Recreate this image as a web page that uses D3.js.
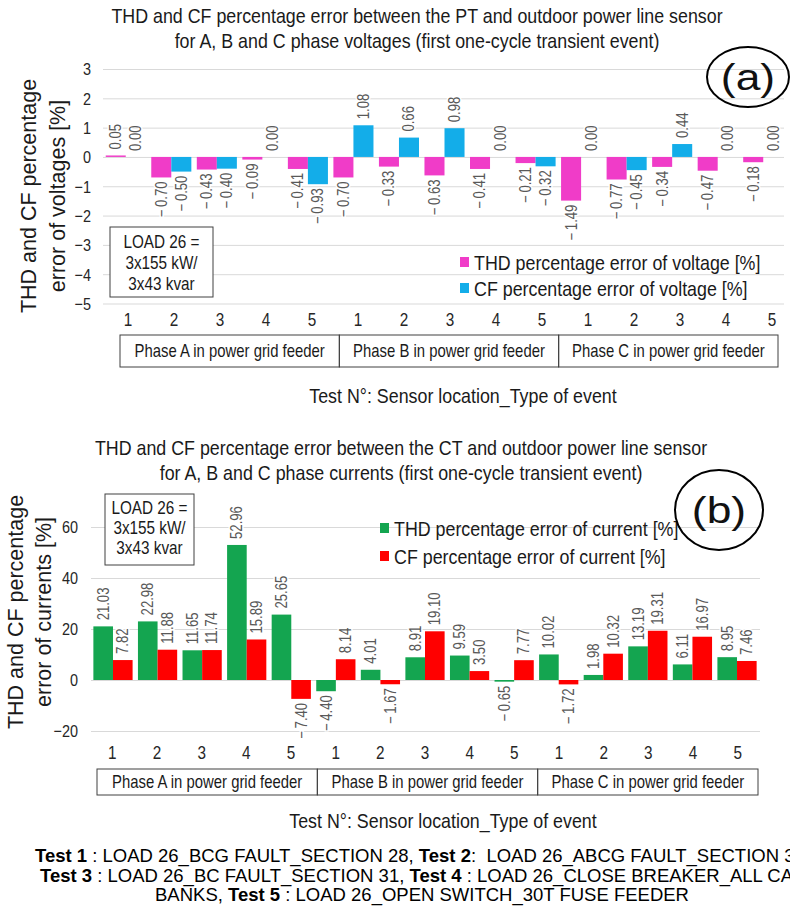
<!DOCTYPE html>
<html>
<head>
<meta charset="utf-8">
<script src="https://cdn.jsdelivr.net/npm/d3@7"></script>
<style>
  body { margin: 0; background: #fff; }
  svg { display: block; font-family: "Liberation Sans", Arial, sans-serif; }
</style>
</head>
<body>
<svg id="chart" width="790" height="913"></svg>
<script>
// ---- data -------------------------------------------------------------
const categories = ["A1", "A2", "A3", "A4", "A5", "B1", "B2", "B3", "B4", "B5", "C1", "C2", "C3", "C4", "C5"];
const testLabels = ["1", "2", "3", "4", "5", "1", "2", "3", "4", "5", "1", "2", "3", "4", "5"];
const phaseLabels = ["Phase A in power grid feeder", "Phase B in power grid feeder", "Phase C in power grid feeder"];

const thdVoltage = [0.05, -0.70, -0.43, -0.09, -0.41, -0.70, -0.33, -0.63, -0.41, -0.21, -1.49, -0.77, -0.34, -0.47, -0.18];
const cfVoltage  = [0.00, -0.50, -0.40, 0.00, -0.93, 1.08, 0.66, 0.98, 0.00, -0.32, 0.00, -0.45, 0.44, 0.00, 0.00];
const thdCurrent = [21.03, 22.98, 11.65, 52.96, 25.65, -4.40, 4.01, 8.91, 9.59, -0.65, 10.02, 1.98, 13.19, 6.11, 8.95];
const cfCurrent  = [7.82, 11.88, 11.74, 15.89, -7.40, 8.14, -1.67, 19.10, 3.50, 7.77, -1.72, 10.32, 19.31, 16.97, 7.46];

const voltageSeries = ["THD percentage error of voltage [%]", "CF percentage error of voltage [%]"];
const currentSeries = ["THD percentage error of current [%]", "CF percentage error of current [%]"];
const voltageTicks = [-5, -4, -3, -2, -1, 0, 1, 2, 3];
const currentTicks = [-20, 0, 20, 40, 60];

const loadNote = ["LOAD 26 =", "3x155 kW/", "3x43 kvar"];
const xAxisTitle = "Test N\u00b0: Sensor location_Type of event";

// ---- helpers ----------------------------------------------------------
const svg = d3.select("#chart");
const NARROW = 0.85;
const minus = "\u2212";

function label(parent, x, y, str, size, opts = {}) {
  const sx = opts.sx ?? NARROW;
  const rot = opts.rotate ? ` rotate(${opts.rotate})` : "";
  const g = parent.append("g").attr("transform", `translate(${x},${y})${rot} scale(${sx},1)`);
  return g.append("text")
    .attr("font-size", size)
    .attr("text-anchor", opts.anchor || "middle")
    .attr("dominant-baseline", "central")
    .attr("fill", opts.fill || "#1a1a1a")
    .text(str);
}

function valueText(v) {
  return v < 0 ? minus + "\u2009" + Math.abs(v).toFixed(2) : v.toFixed(2);
}

function drawPanel(p) {
  const g = svg.append("g");

  p.title.forEach((line, i) => label(g, p.titleX, p.titleY[i], line, 21));

  const y = d3.scaleLinear().domain(p.yDomain).range(p.yRange);
  const x0 = d3.scaleBand().domain(categories).range(p.xRange).paddingInner(0.12).paddingOuter(0.06);
  const x1 = d3.scaleBand().domain([0, 1]).range([0, x0.bandwidth()]);
  const xt = d3.scaleBand().domain(categories).range(p.tickRange);
  const xp = d3.scaleBand().domain(phaseLabels).range(p.phaseX);
  const color = d3.scaleOrdinal().domain([0, 1]).range(p.colors);

  // horizontal gridlines + y tick labels
  const gridW = p.gridX[1] - p.gridX[0];
  const yAxis = g.append("g")
    .attr("transform", `translate(${p.gridX[0]},0)`)
    .call(d3.axisLeft(y).tickValues(p.yTicks).tickSize(-gridW).tickFormat(d3.format("d")));
  yAxis.select(".domain").remove();
  yAxis.selectAll(".tick line").attr("stroke", "#d9d9d9");
  yAxis.selectAll(".tick text")
    .attr("font-size", 17)
    .attr("fill", "#262626")
    .attr("font-family", null)
    .attr("dy", null)
    .attr("dominant-baseline", "central")
    .attr("x", (p.yTickX - p.gridX[0]) / NARROW)
    .attr("transform", `scale(${NARROW},1)`);

  // y axis title (two lines)
  p.yTitle.forEach((line, i) =>
    label(g, p.yTitleX[i], p.yTitleY, line, 21.5, { rotate: -90, sx: 1 }));

  // bars
  const rows = [];
  categories.forEach((c, i) => {
    p.values.forEach((arr, s) => rows.push({ c, s, v: arr[i] }));
  });
  g.append("g").selectAll("rect").data(rows).join("rect")
    .attr("x", d => x0(d.c) + x1(d.s))
    .attr("width", x1.bandwidth())
    .attr("y", d => y(Math.max(0, d.v)))
    .attr("height", d => Math.abs(y(d.v) - y(0)))
    .attr("fill", d => color(d.s));

  // value labels, rotated, with a white halo over the gridlines
  const lab = g.append("g");
  rows.forEach(d => {
    const cx = x0(d.c) + x1(d.s) + x1.bandwidth() / 2;
    const pos = d.v >= 0;
    label(lab, cx, pos ? y(d.v) - 6 : y(d.v) + 4, valueText(d.v), 16,
      { rotate: -90, sx: 0.82, anchor: pos ? "start" : "end", fill: "#595959" })
      .attr("stroke", "#fff").attr("stroke-width", 3).attr("paint-order", "stroke");
  });

  // x tick labels (test numbers)
  const xAxis = g.append("g")
    .attr("transform", `translate(0,${p.xTickY})`)
    .call(d3.axisBottom(xt).tickSize(0).tickFormat((d, i) => testLabels[i]));
  xAxis.select(".domain").remove();
  xAxis.selectAll(".tick text")
    .attr("font-size", 18)
    .attr("fill", "#262626")
    .attr("y", 0).attr("dy", null)
    .attr("dominant-baseline", "central")
    .attr("transform", `scale(${NARROW},1)`);

  // phase group boxes
  const pg = g.append("g");
  phaseLabels.forEach(ph => {
    pg.append("rect")
      .attr("x", xp(ph)).attr("y", p.phaseY[0])
      .attr("width", xp.bandwidth()).attr("height", p.phaseY[1] - p.phaseY[0])
      .attr("fill", "none").attr("stroke", "#404040").attr("stroke-width", 1);
    label(pg, xp(ph) + xp.bandwidth() / 2, (p.phaseY[0] + p.phaseY[1]) / 2, ph, 17.5);
  });

  // axis title
  label(g, p.xTitleX, p.xTitleY, xAxisTitle, 21);

  // load note box
  const b = p.noteBox;
  g.append("rect").attr("x", b[0]).attr("y", b[1]).attr("width", b[2] - b[0]).attr("height", b[3] - b[1])
    .attr("fill", "#fff").attr("stroke", "#404040").attr("stroke-width", 1);
  loadNote.forEach((line, i) => label(g, (b[0] + b[2]) / 2, p.noteY[i], line, 18));

  // legend
  p.series.forEach((name, s) => {
    g.append("rect").attr("x", p.legendX).attr("y", p.legendY[s] - 5)
      .attr("width", 9).attr("height", 10).attr("fill", color(s));
    label(g, p.legendX + 14, p.legendY[s], name, 21, { anchor: "start" });
  });

  // panel marker
  g.append("ellipse").attr("cx", p.marker[0]).attr("cy", p.marker[1])
    .attr("rx", p.marker[2]).attr("ry", p.marker[3])
    .attr("fill", "none").attr("stroke", "#000").attr("stroke-width", 2);
  label(g, p.marker[0], p.marker[1], p.markerText, 37, { sx: 1.2, fill: "#111" });
}

// ---- panel (a): voltages ---------------------------------------------
drawPanel({
  title: ["THD and CF percentage error between the PT and outdoor power line sensor",
          "for A, B and C phase voltages (first one-cycle transient event)"],
  titleX: 417, titleY: [15, 40],
  values: [thdVoltage, cfVoltage], series: voltageSeries,
  colors: ["#F03CC8", "#13ADE9"],
  yDomain: [-5, 3], yRange: [303.5, 69], yTicks: voltageTicks,
  xRange: [103, 786], tickRange: [105, 795], gridX: [103, 784],
  yTickX: 91, yTitle: ["THD and CF percentage", "error of voltages [%]"],
  yTitleX: [29, 58], yTitleY: 196,
  xTickY: 320, phaseX: [120, 778], phaseY: [335, 367],
  xTitleX: 463, xTitleY: 395,
  noteBox: [110, 227, 213, 297], noteY: [242, 263, 284],
  legendX: 460, legendY: [262, 288],
  marker: [748, 77, 41, 30], markerText: "(a)"
});

// ---- panel (b): currents ---------------------------------------------
drawPanel({
  title: ["THD and CF percentage error between the CT and outdoor power line sensor",
          "for A, B and C phase currents (first one-cycle transient event)"],
  titleX: 401, titleY: [447, 472],
  values: [thdCurrent, cfCurrent], series: currentSeries,
  colors: ["#14A550", "#FF0000"],
  yDomain: [-20, 60], yRange: [731, 527], yTicks: currentTicks,
  xRange: [90.7, 759.3], tickRange: [90, 760], gridX: [91, 760],
  yTickX: 78, yTitle: ["THD and CF percentage", "error of currents [%]"],
  yTitleX: [16, 44], yTitleY: 612,
  xTickY: 753, phaseX: [97, 758], phaseY: [769, 795],
  xTitleX: 443, xTitleY: 820,
  noteBox: [105, 494, 194, 565], noteY: [508, 528, 548],
  legendX: 380, legendY: [528, 556],
  marker: [719, 510, 44, 40], markerText: "(b)"
});

// ---- footnote ---------------------------------------------------------
const footLines = [
  { x: 35, anchor: "start", parts: [["Test 1", true], [" : LOAD 26_BCG FAULT_SECTION 28, ", false], ["Test 2", true], [":  LOAD 26_ABCG FAULT_SECTION 3", false]] },
  { x: 40, anchor: "start", parts: [["Test 3", true], [" : LOAD 26_BC FAULT_SECTION 31, ", false], ["Test 4", true], [" : LOAD 26_CLOSE BREAKER_ALL CA", false]] },
  { x: 422, anchor: "middle", parts: [["BANKS, ", false], ["Test 5", true], [" : LOAD 26_OPEN SWITCH_30T FUSE FEEDER", false]] }
];
const footY = [855, 875, 894];
footLines.forEach((ln, i) => {
  const t = svg.append("text")
    .attr("x", ln.x).attr("y", footY[i])
    .attr("font-size", 18.5).attr("text-anchor", ln.anchor)
    .attr("dominant-baseline", "central").attr("fill", "#000")
    .attr("xml:space", "preserve").style("white-space", "pre");
  ln.parts.forEach(([s, bold]) => t.append("tspan").attr("font-weight", bold ? "bold" : "normal").text(s));
});
</script>
</body>
</html>
